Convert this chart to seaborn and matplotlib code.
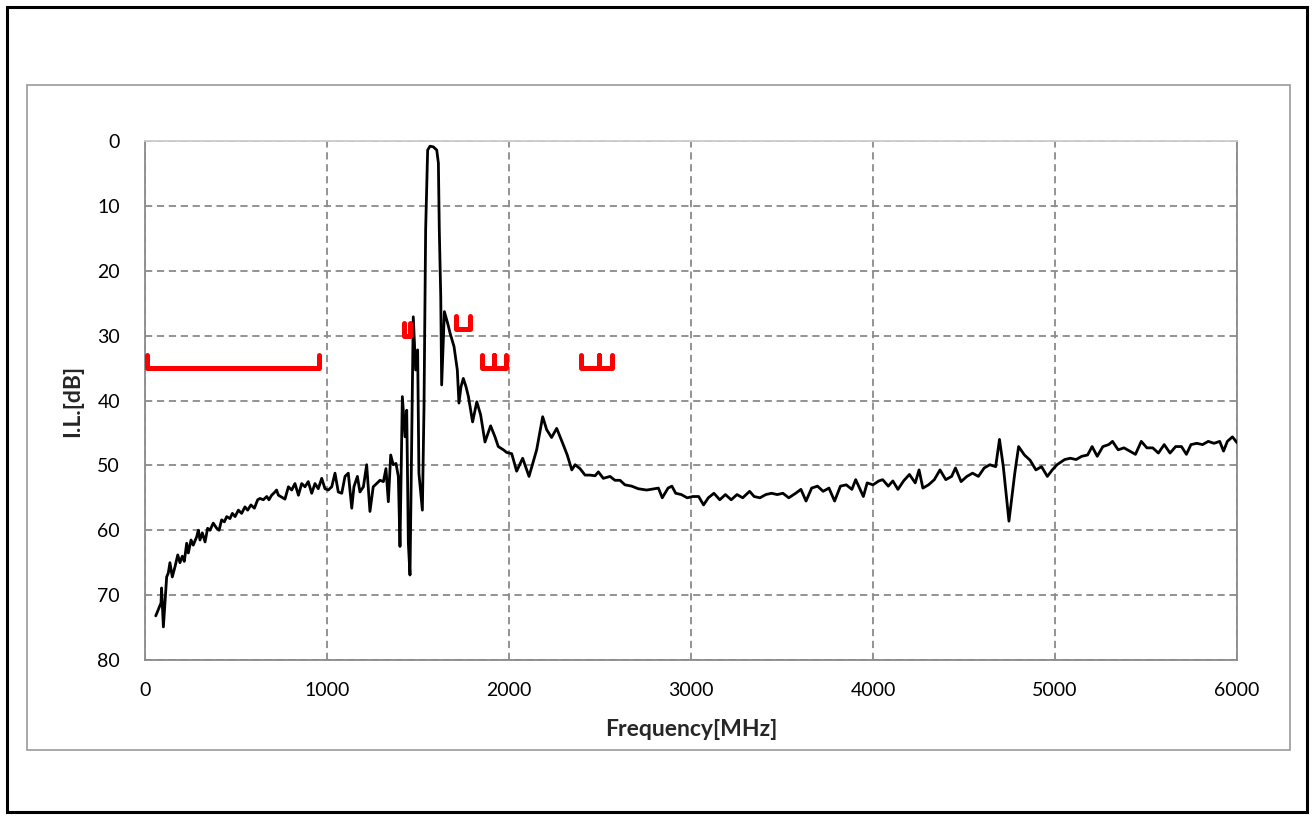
import numpy as np
import pandas as pd
import matplotlib
matplotlib.use("Agg")
import matplotlib.pyplot as plt
from matplotlib.patches import Rectangle
import seaborn as sns

# ================= DATA =================
freq_mhz = [
    59, 88, 91, 101, 119, 128, 137, 150, 165, 180, 192, 205, 216, 229, 238, 253,
    265, 284, 293, 302, 315, 330, 344, 357, 375, 394, 407, 421, 436, 449, 467, 480,
    495, 513, 531, 549, 564, 582, 601, 619, 632, 650, 669, 681, 696, 714, 723, 733,
    751, 769, 788, 806, 824, 843, 861, 879, 897, 916, 934, 952, 971, 989, 1007, 1026,
    1044, 1062, 1081, 1099, 1117, 1136, 1148, 1167, 1181, 1200, 1218, 1236, 1254, 1273,
    1291, 1310, 1324, 1337, 1350, 1364, 1379, 1392, 1401, 1414, 1429, 1438, 1447, 1456,
    1474, 1487, 1498, 1505, 1524, 1533, 1542, 1553, 1566, 1584, 1603, 1612, 1617, 1625,
    1630, 1645, 1663, 1676, 1698, 1716, 1725, 1736, 1749, 1764, 1777, 1800, 1823, 1844,
    1868, 1899, 1923, 1941, 1969, 1987, 2015, 2042, 2075, 2110, 2152, 2185, 2207, 2234,
    2262, 2295, 2320, 2345, 2363, 2390, 2418, 2445, 2473, 2491, 2518, 2555, 2582, 2610,
    2637, 2674, 2710, 2756, 2779, 2821, 2842, 2874, 2895, 2916, 2947, 2979, 3011, 3042,
    3069, 3095, 3126, 3158, 3189, 3221, 3253, 3284, 3322, 3347, 3379, 3411, 3442, 3474,
    3505, 3537, 3575, 3604, 3632, 3663, 3695, 3726, 3758, 3789, 3821, 3853, 3884, 3905,
    3947, 3968, 4000, 4032, 4053, 4084, 4109, 4137, 4168, 4200, 4232, 4253, 4274, 4305,
    4337, 4368, 4400, 4432, 4453, 4484, 4516, 4547, 4579, 4611, 4642, 4674, 4695, 4716,
    4747, 4779, 4800, 4832, 4863, 4895, 4926, 4958, 4985, 5011, 5053, 5084, 5116, 5147,
    5179, 5204, 5232, 5263, 5295, 5316, 5347, 5379, 5411, 5442, 5474, 5505, 5537, 5568,
    5600, 5632, 5663, 5695, 5722, 5747, 5779, 5811, 5842, 5874, 5905, 5926, 5947, 5975,
    6000,
]
il_db = [
    73.2, 71.2, 68.9, 74.9, 67.2, 66.6, 65.0, 67.2, 65.6, 63.8, 65.0, 64.0, 64.8, 62.0, 63.5, 61.5,
    62.3, 61.0, 60.0, 61.5, 60.4, 61.8, 59.7, 60.0, 58.9, 59.7, 60.0, 58.4, 58.7, 57.9, 58.2, 57.4,
    57.9, 56.9, 57.4, 56.4, 56.9, 56.1, 56.6, 55.3, 55.1, 55.3, 54.8, 55.3, 54.6, 54.1, 53.8, 54.6,
    54.9, 55.2, 53.3, 53.8, 52.8, 54.6, 52.8, 53.3, 52.5, 54.3, 52.8, 53.6, 52.0, 53.6, 53.8, 53.3,
    51.2, 54.1, 54.3, 51.7, 51.2, 56.6, 53.3, 51.7, 54.1, 53.3, 49.9, 57.1, 53.3, 52.8,
    52.3, 52.5, 50.5, 55.6, 48.4, 49.9, 49.7, 51.7, 62.5, 39.4, 45.6, 41.5, 62.0, 66.9,
    27.1, 35.3, 32.2, 51.2, 56.9, 41.0, 13.7, 1.4, 0.8, 0.9, 1.4, 3.4, 13.7, 24.0,
    37.6, 26.3, 28.1, 29.6, 31.7, 35.3, 40.4, 37.9, 36.6, 37.9, 39.4, 43.3, 40.2, 42.2,
    46.4, 43.9, 45.6, 47.1, 47.6, 48.0, 48.2, 50.9, 48.9, 51.7, 47.6, 42.5, 44.5, 45.7,
    44.3, 46.6, 48.4, 50.7, 49.9, 50.5, 51.5, 51.5, 51.6, 51.0, 52.0, 51.7, 52.3, 52.3,
    53.0, 53.2, 53.6, 53.8, 53.7, 53.5, 55.0, 53.5, 53.2, 54.3, 54.5, 55.0, 54.8, 54.8,
    56.1, 55.0, 54.3, 55.3, 54.5, 55.3, 54.5, 55.0, 54.0, 54.8, 55.0, 54.5, 54.3, 54.5,
    54.3, 55.0, 54.3, 53.7, 55.5, 53.5, 53.2, 54.0, 53.5, 55.5, 53.2, 53.0, 53.7, 52.2,
    54.8, 52.7, 53.0, 52.4, 52.2, 53.2, 52.4, 53.7, 52.4, 51.4, 52.7, 50.7, 53.5, 53.0,
    52.2, 50.7, 52.2, 51.7, 50.4, 52.5, 51.7, 51.2, 51.7, 50.4, 49.9, 50.2, 46.0, 50.2,
    58.6, 51.2, 47.1, 48.4, 49.2, 50.7, 50.2, 51.7, 50.7, 49.9, 49.1, 48.9, 49.1, 48.6,
    48.4, 47.1, 48.6, 47.1, 46.8, 46.3, 47.6, 47.3, 47.8, 48.3, 46.3, 47.3, 47.3, 48.1,
    46.8, 48.1, 47.1, 47.1, 48.3, 46.8, 46.6, 46.8, 46.3, 46.6, 46.3, 47.8, 46.3, 45.6,
    46.5,
]

# spec masks (red)
mask_start = [10, 1425, 1711, 1849, 2395]
mask_stop = [955, 1455, 1783, 1981, 2565]
mask_mid = [None, None, None, 1915, 2496]
mask_level = [35, 30, 29, 35, 35]
mask_top = [33, 28, 27, 33, 33]

x_ticks = [0, 1000, 2000, 3000, 4000, 5000, 6000]
y_ticks = [0, 10, 20, 30, 40, 50, 60, 70, 80]

# ================= STYLE =================
sns.set_style("white")
plt.rcParams['font.family'] = ['Lato', 'DejaVu Sans']

fig = plt.figure(figsize=(13.13, 8.18), dpi=100)
ax = fig.add_axes([145 / 1313, 1 - 660 / 818, (1237 - 145) / 1313, (660 - 141) / 818])

# frames around figure and chart area
fig.patches.append(Rectangle((7 / 1313, 1 - 812 / 818), 1300 / 1313, 805 / 818,
                             transform=fig.transFigure, fill=False, edgecolor="black", lw=2.2))
fig.patches.append(Rectangle((27 / 1313, 1 - 750 / 818), 1263 / 1313, 665 / 818,
                             transform=fig.transFigure, fill=False, edgecolor="#9a9a9a", lw=1.2))

# ================= PLOT =================
df = pd.DataFrame({"freq": freq_mhz, "il": il_db})
sns.lineplot(data=df, x="freq", y="il", ax=ax, color="black", lw=2.0,
             estimator=None, sort=False, zorder=3)

for a, b, m, lvl, top in zip(mask_start, mask_stop, mask_mid, mask_level, mask_top):
    if m is None:
        mx = [a, a, b, b]
        my = [top, lvl, lvl, top]
    else:
        mx = [a, a, m, m, m, b, b]
        my = [top, lvl, lvl, top, lvl, lvl, top]
    ax.plot(mx, my, color="red", lw=3.6, solid_capstyle="round",
            solid_joinstyle="round", zorder=4)

ax.set_xlim(0, 6000)
ax.set_ylim(80, 0)
ax.set_xticks(x_ticks)
ax.set_yticks(y_ticks)
ax.grid(True, color="#8a8a8a", linestyle=(0, (4, 2.6)), lw=1.3)
ax.tick_params(axis="both", length=0, labelsize=14, colors="black")
ax.tick_params(axis="y", pad=18)
ax.tick_params(axis="x", pad=16)

for s in ax.spines.values():
    s.set_color("#8a8a8a")
    s.set_linewidth(1.3)
ax.spines["top"].set_color("#cccccc")

ax.set_xlabel("Frequency[MHz]", fontsize=16.5, fontweight="bold", labelpad=14)
ax.set_ylabel("I.L.[dB]", fontsize=16.5, fontweight="bold", labelpad=10)

plt.savefig("out.png", dpi=100)
